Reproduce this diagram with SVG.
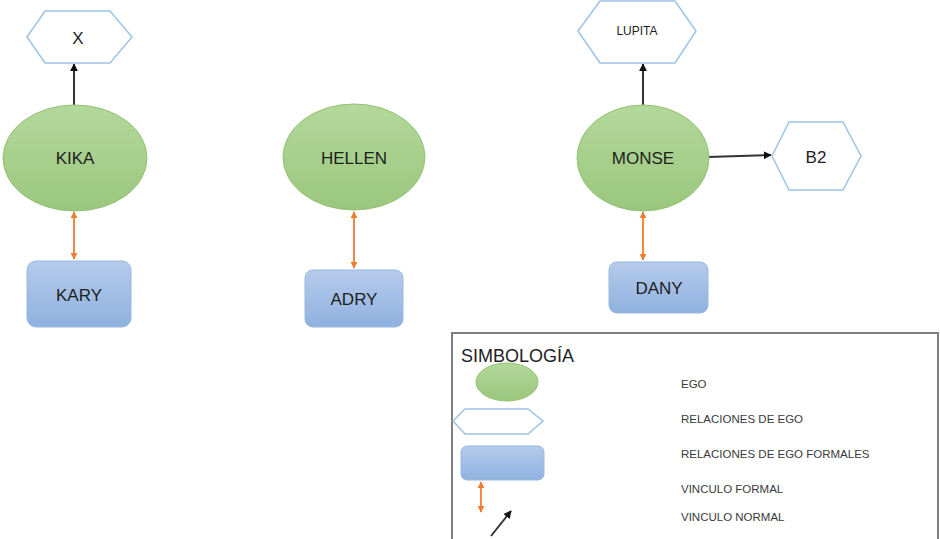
<svg xmlns="http://www.w3.org/2000/svg" width="940" height="539" viewBox="0 0 940 539">
<defs>
<linearGradient id="gGreen" x1="0" y1="0" x2="0" y2="1">
<stop offset="0" stop-color="#b3d89b"/><stop offset="1" stop-color="#9bc77d"/>
</linearGradient>
<linearGradient id="gBlue" x1="0" y1="0" x2="0" y2="1">
<stop offset="0" stop-color="#b5cbeb"/><stop offset="1" stop-color="#8fb1df"/>
</linearGradient>
<marker id="mBlack" viewBox="0 0 10 10" refX="9" refY="5" markerWidth="4" markerHeight="4" orient="auto-start-reverse">
<path d="M0,0 L10,5 L0,10 z" fill="#111"/>
</marker>
<marker id="mOrange" viewBox="0 0 10 10" refX="9" refY="5" markerWidth="4" markerHeight="4" orient="auto-start-reverse">
<path d="M0,0 L10,5 L0,10 z" fill="#ed7d31"/>
</marker>
</defs>
<style>
.ego{fill:url(#gGreen);stroke:#92c173;stroke-width:1}
.rel{fill:#fff;stroke:#9dc3e6;stroke-width:1.5}
.frm{fill:url(#gBlue);stroke:#9ab8e2;stroke-width:1}
.t{font-family:"Liberation Sans",Arial,sans-serif;fill:#1e1e1e;text-anchor:middle;dominant-baseline:central}
.n{font-size:17px}
.lg{font-family:"Liberation Sans",Arial,sans-serif;fill:#3a3a3a;font-size:11.5px}
.norm{stroke:#333;stroke-width:2;fill:none;marker-end:url(#mBlack)}
.form{stroke:#ed7d31;stroke-width:1.8;fill:none;marker-start:url(#mOrange);marker-end:url(#mOrange)}
</style>

<g id="connectors">
<line class="norm" x1="74" y1="105" x2="74" y2="64"/>
<line class="form" x1="74" y1="212" x2="74" y2="259"/>
<line class="form" x1="354" y1="212" x2="354" y2="268"/>
<line class="norm" x1="643" y1="105" x2="643" y2="64"/>
<line class="norm" x1="708" y1="157" x2="771" y2="155"/>
<line class="form" x1="643" y1="212" x2="643" y2="260"/>
</g>

<g id="node-x">
<polygon class="rel" points="27,37 45,11 110,11 132,37 110,63 45,63"/>
<text class="t n" x="78" y="38">X</text>
</g>
<g id="node-kika">
<ellipse class="ego" cx="75" cy="158" rx="72" ry="53"/>
<text class="t n" x="75" y="158">KIKA</text>
</g>
<g id="node-kary">
<rect class="frm" x="27" y="261" width="104" height="66" rx="9"/>
<text class="t n" x="79" y="295">KARY</text>
</g>

<g id="node-hellen">
<ellipse class="ego" cx="354" cy="157" rx="71" ry="53"/>
<text class="t n" x="354" y="158">HELLEN</text>
</g>
<g id="node-adry">
<rect class="frm" x="305" y="270" width="98" height="57" rx="8"/>
<text class="t n" x="354" y="299">ADRY</text>
</g>

<g id="node-lupita">
<polygon class="rel" points="578,31 600,1 675,1 696,31 675,63 600,63"/>
<text class="t" x="637" y="31" font-size="12">LUPITA</text>
</g>
<g id="node-monse">
<ellipse class="ego" cx="643" cy="158" rx="66" ry="53"/>
<text class="t n" x="643" y="158">MONSE</text>
</g>
<g id="node-b2">
<polygon class="rel" points="772,156 789,122 843,122 861,156 843,190 789,190"/>
<text class="t n" x="816" y="157">B2</text>
</g>
<g id="node-dany">
<rect class="frm" x="609" y="262" width="99" height="51" rx="8"/>
<text class="t n" x="659" y="288">DANY</text>
</g>

<g id="legend">
<rect x="452" y="333" width="486" height="210" fill="#fff" stroke="#7f7f7f" stroke-width="2"/>
<text x="461" y="362" font-family="'Liberation Sans',Arial,sans-serif" font-size="18" fill="#1e1e1e">SIMBOLOGÍA</text>
<ellipse class="ego" cx="507" cy="382" rx="31" ry="19"/>
<polygon class="rel" points="453,421 465,409 528,409 543,421 528,434 465,434"/>
<rect class="frm" x="461" y="446" width="83" height="34" rx="6"/>
<line class="form" x1="481" y1="482" x2="481" y2="512"/>
<line class="norm" x1="491" y1="536" x2="511" y2="511"/>
<text class="lg" x="681" y="388">EGO</text>
<text class="lg" x="681" y="423">RELACIONES DE EGO</text>
<text class="lg" x="681" y="458">RELACIONES DE EGO FORMALES</text>
<text class="lg" x="681" y="493">VINCULO FORMAL</text>
<text class="lg" x="681" y="521">VINCULO NORMAL</text>
</g>
</svg>
